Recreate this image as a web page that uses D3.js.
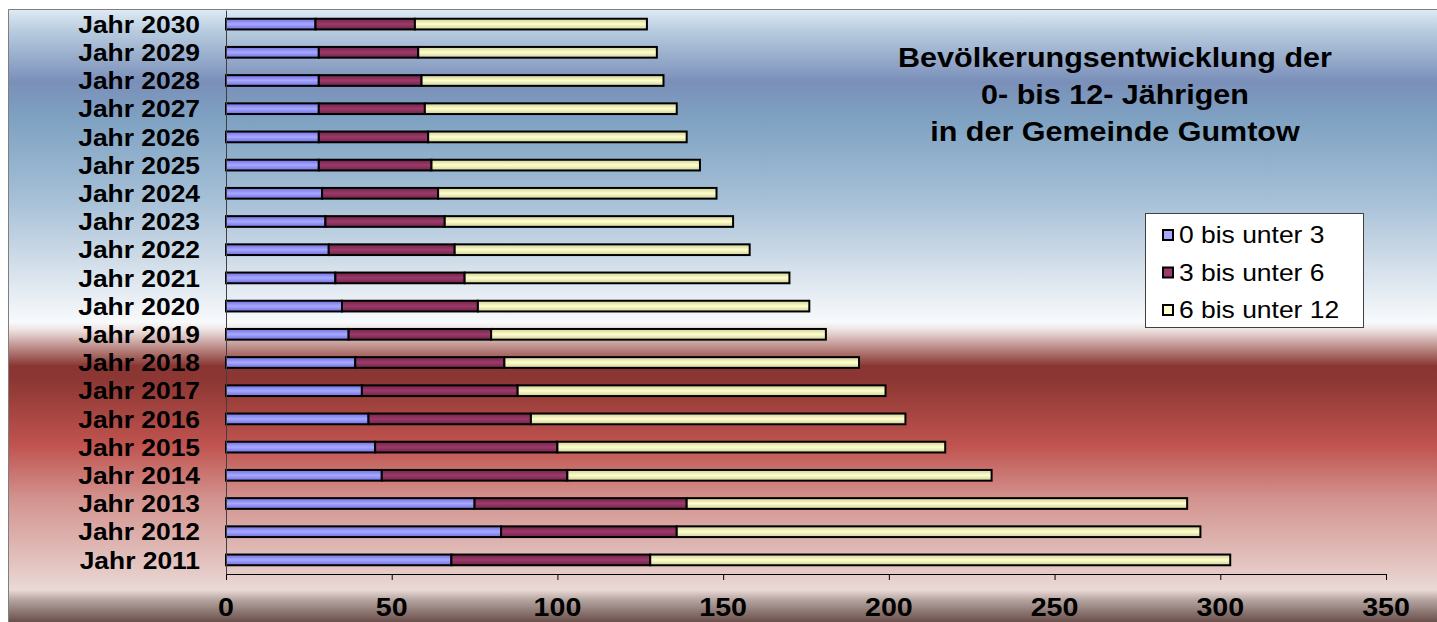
<!DOCTYPE html>
<html><head><meta charset="utf-8">
<script src="https://cdn.jsdelivr.net/npm/d3@7"></script>
<style>html,body{margin:0;padding:0;background:#fff;}svg{display:block;font-family:"Liberation Sans",Arial,sans-serif;}</style>
</head><body>
<svg id="c" width="1437" height="622"></svg>
<script>
const years = ["Jahr 2011","Jahr 2012","Jahr 2013","Jahr 2014","Jahr 2015","Jahr 2016","Jahr 2017","Jahr 2018","Jahr 2019","Jahr 2020","Jahr 2021","Jahr 2022","Jahr 2023","Jahr 2024","Jahr 2025","Jahr 2026","Jahr 2027","Jahr 2028","Jahr 2029","Jahr 2030"];
const seriesNames = ["0 bis unter 3","3 bis unter 6","6 bis unter 12"];
const age0to3  = [68,83,75,47,45,43,41,39,37,35,33,31,30,29,28,28,28,28,28,27];
const age3to6  = [60,53,64,56,55,49,47,45,43,41,39,38,36,35,34,33,32,31,30,30];
const age6to12 = [175,158,151,128,117,113,111,107,101,100,98,89,87,84,81,78,76,73,72,70];
const xTicks = [0,50,100,150,200,250,300,350];
const titleLines = ["Bevölkerungsentwicklung der","0- bis 12- Jährigen","in der Gemeinde Gumtow"];
const colors = [["#6f6fe0","#a8a8ff"],["#6e2448","#9c3a6a"],["#cfcf9c","#ffffcc"]];

const svg = d3.select("#c");
const defs = svg.append("defs");

// background gradient
const bg = defs.append("linearGradient").attr("id","bg").attr("x1",0).attr("y1",0).attr("x2",0).attr("y2",1);
const H0 = 9, H1 = 622;
const bgStops = [[10,"#dfeaf4"],[30,"#b9cde0"],[82,"#7a8fb9"],[120,"#7fa2c2"],[200,"#a6c0d7"],[260,"#cfdce8"],[322,"#f8fafc"],[330,"#eee2e2"],[345,"#c39894"],[366,"#893531"],[380,"#8c3733"],[445,"#c0534f"],[500,"#d39490"],[560,"#e2c1bd"],[590,"#ead9d5"],[600,"#b4a4a0"],[622,"#6a4f4b"]];
bgStops.forEach(s=>bg.append("stop").attr("offset",((s[0]-H0)/(H1-H0))).attr("stop-color",s[1]));
svg.append("rect").attr("x",8).attr("y",H0).attr("width",1437-8).attr("height",H1-H0).attr("fill","url(#bg)");
svg.append("path").attr("d",`M8.5,${H1}V${H0+0.5}H1437`).attr("fill","none").attr("stroke","#7f7f7f").attr("stroke-width",1);

colors.forEach((c,i)=>{
  const g = defs.append("linearGradient").attr("id","g"+i).attr("x1",0).attr("y1",0).attr("x2",0).attr("y2",1);
  g.append("stop").attr("offset",0).attr("stop-color",c[0]);
  g.append("stop").attr("offset",0.5).attr("stop-color",c[1]);
  g.append("stop").attr("offset",1).attr("stop-color",c[0]);
});

const x = d3.scaleLinear().domain([0,350]).range([226,1386]);
const y = d3.scaleBand().domain(years.slice().reverse()).range([10,574]).paddingInner(0.62).paddingOuter(0.31);

const table = years.map((yr,i)=>({year:yr, v:[age0to3[i],age3to6[i],age6to12[i]]}));
const stack = table.map(d=>{let c=0; return d.v.map((v,k)=>{const s=c; c+=v; return {year:d.year,k,x0:s,x1:c};});});

svg.append("g").selectAll("g").data(stack).join("g").selectAll("rect").data(d=>d).join("rect")
  .attr("x",d=>x(d.x0)).attr("width",d=>x(d.x1)-x(d.x0))
  .attr("y",d=>y(d.year)).attr("height",y.bandwidth())
  .attr("fill",d=>`url(#g${d.k})`).attr("stroke","#000").attr("stroke-width",2);

// x axis
const xa = svg.append("g").attr("transform","translate(0,574)")
  .call(d3.axisBottom(x).tickValues(xTicks).tickSize(6).tickSizeOuter(0).tickFormat(""));
xa.select(".domain").attr("stroke","#000");
xa.selectAll("line").attr("stroke","#000");
svg.append("g").selectAll("text").data(xTicks).join("text")
  .attr("transform",d=>`translate(${x(d)},616) scale(1.1,1)`)
  .attr("text-anchor","middle").attr("font-size",26).attr("font-weight","bold").text(d=>d);

// y axis
const ya = svg.append("g").attr("transform","translate(226,0)")
  .call(d3.axisLeft(y).tickSize(0).tickFormat(""));
ya.select(".domain").attr("stroke","#404040");
svg.append("g").selectAll("text").data(years).join("text")
  .attr("transform",d=>`translate(200,${y(d)+y.bandwidth()/2}) scale(1.1,1)`)
  .attr("text-anchor","end").attr("dy","0.36em")
  .attr("font-size",24).attr("font-weight","bold").text(d=>d);

// title
svg.append("g").selectAll("text").data(titleLines).join("text")
  .attr("transform",(d,i)=>`translate(1115,${67+i*37}) scale(1.09,1)`)
  .attr("text-anchor","middle").attr("font-size",28).attr("font-weight","bold").text(d=>d);

// legend
const lg = svg.append("g").attr("transform","translate(1145,213)");
lg.append("rect").attr("x",0.5).attr("y",0.5).attr("width",218).attr("height",114).attr("fill","#fff").attr("stroke","#404040");
seriesNames.forEach((n,i)=>{
  const cy = 22 + i*37.5;
  lg.append("rect").attr("x",18).attr("y",cy-5).attr("width",10).attr("height",10).attr("fill",colors[i][1]).attr("stroke","#000").attr("stroke-width",2);
  lg.append("text").attr("transform",`translate(34,${cy}) scale(1.15,1)`).attr("dy","0.36em").attr("font-size",23).text(n);
});
</script>
</body></html>
